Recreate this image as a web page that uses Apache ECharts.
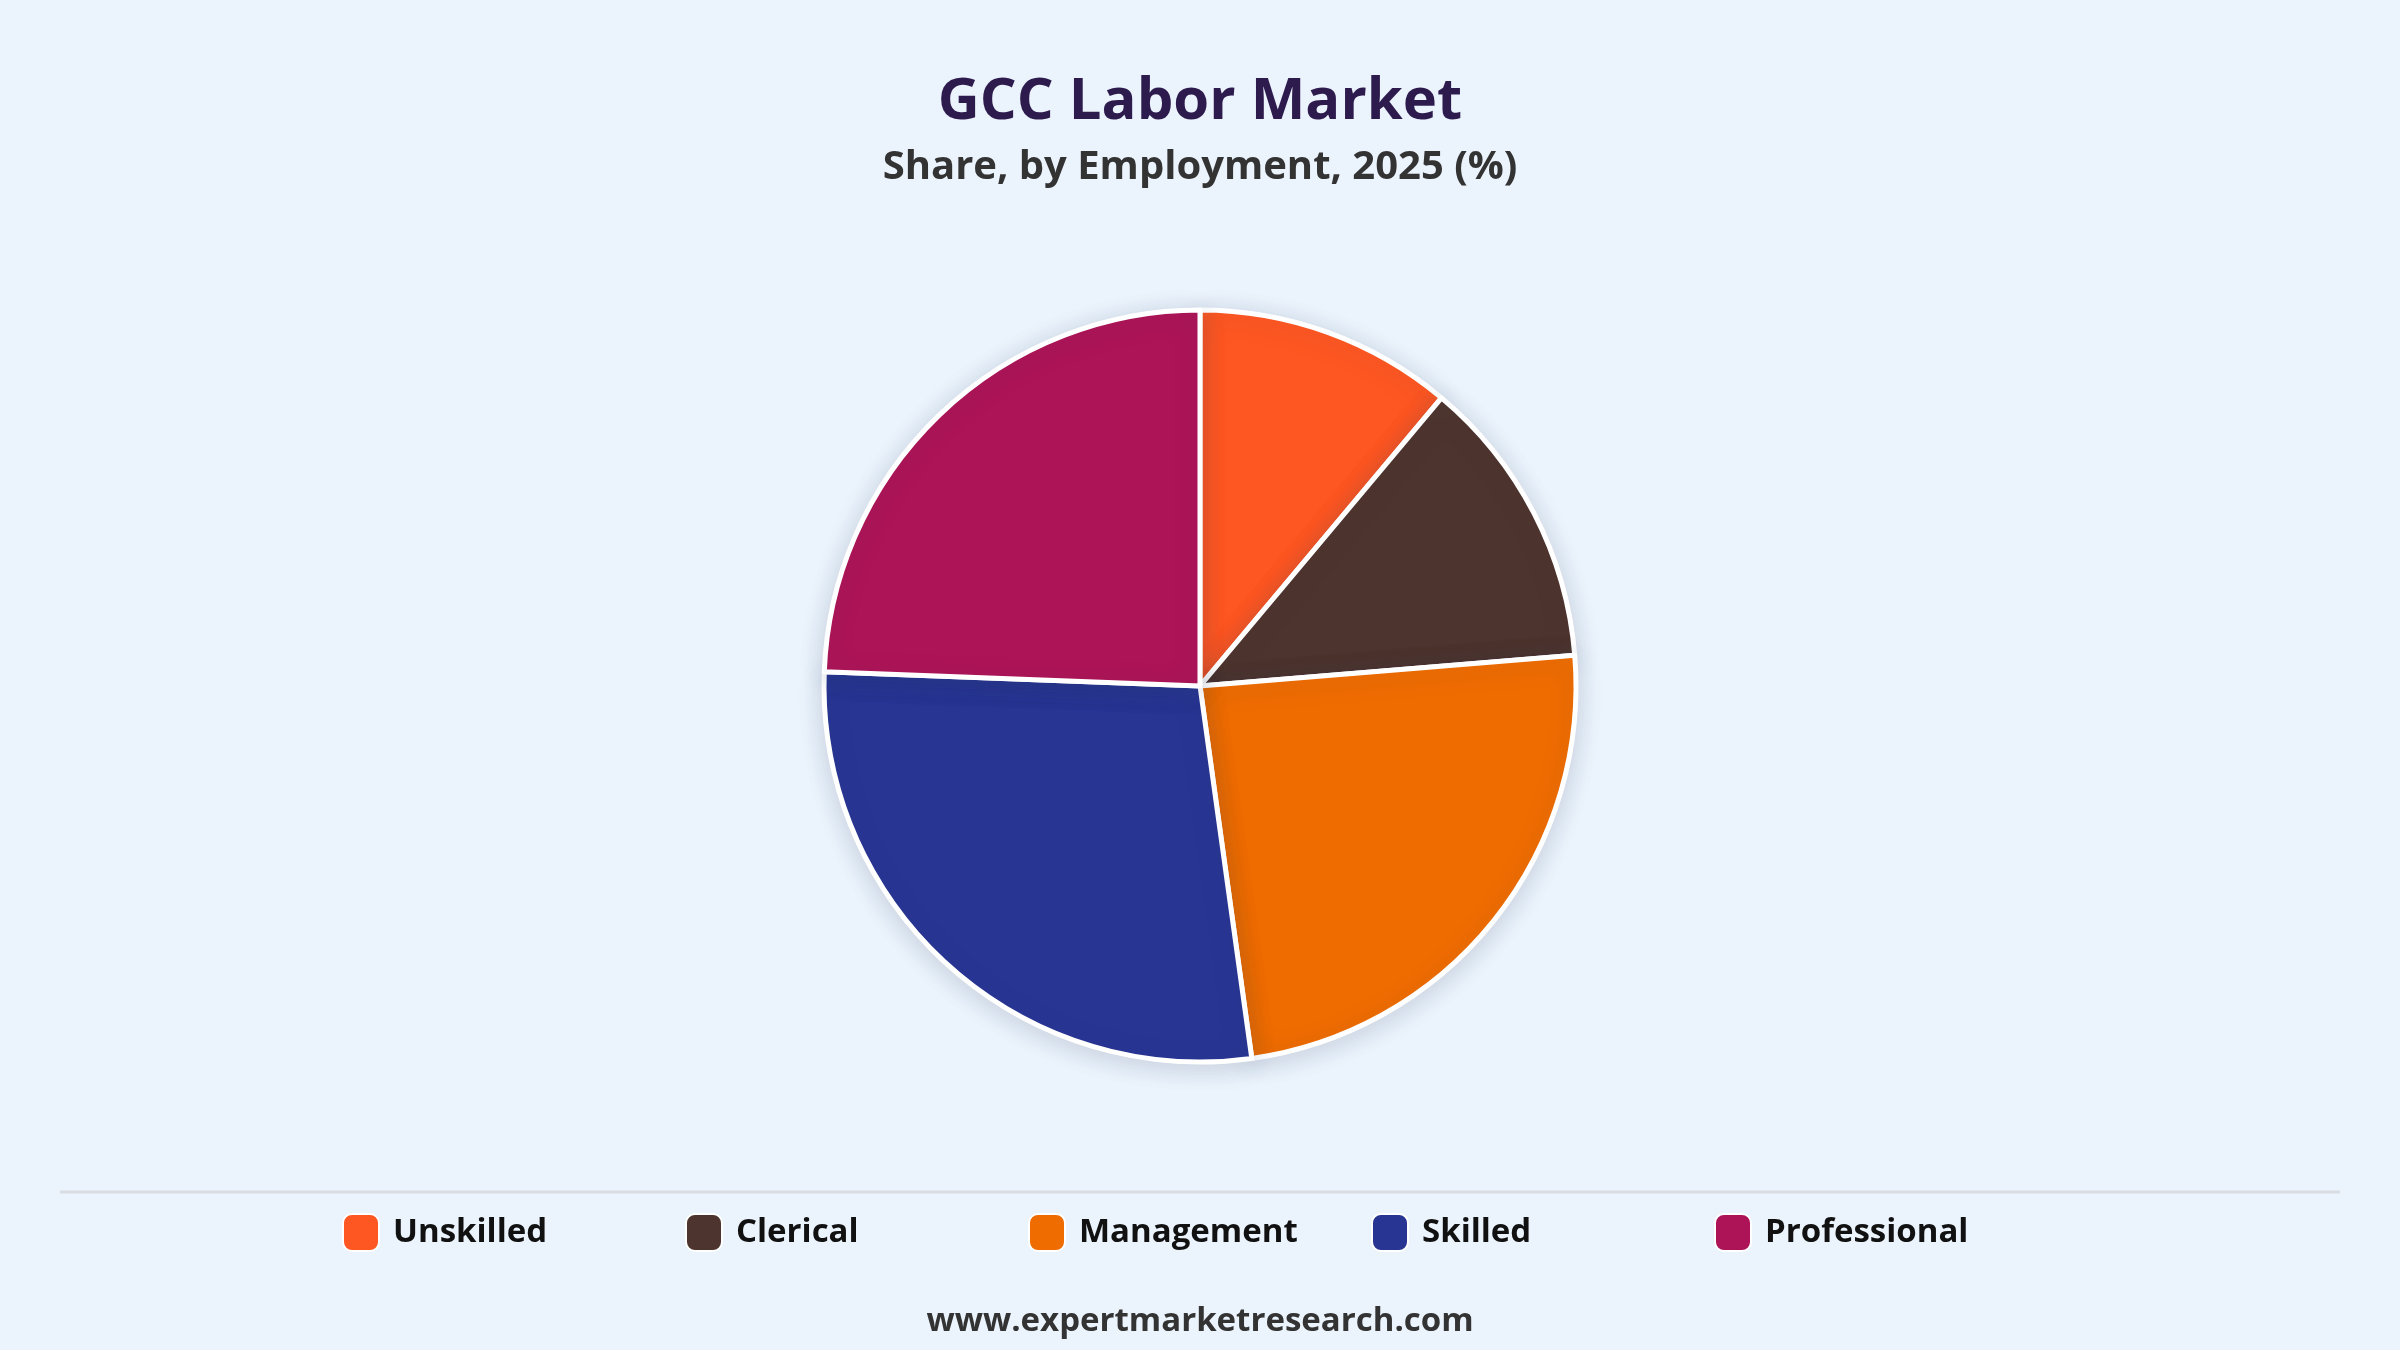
<!DOCTYPE html>
<html>
<head>
<meta charset="utf-8">
<script src="https://cdn.jsdelivr.net/npm/echarts@6/dist/echarts.min.js"></script>
<style>
  html, body { margin: 0; padding: 0; background: #ebf3fc; }
  #chart { width: 2400px; height: 1350px; }
</style>
</head>
<body>
<div id="chart"></div>
<script>
const categories = ['Unskilled', 'Clerical', 'Management', 'Skilled', 'Professional']
const shares = [11.1, 12.6, 24.1, 27.8, 24.4]
const colors = ['#ff5722', '#4e342e', '#ef6c00', '#283593', '#ad1457']

const fontFamily = '"Open Sans", "Noto Sans", sans-serif'

const chart = echarts.init(document.getElementById('chart'))

// one legend per item so each sits at a fixed slot
const legendStart = 342
const legendStep = 343
const legends = categories.map((name, i) => ({
  data: [name],
  left: legendStart + i * legendStep,
  top: 1213,
  padding: 0,
  itemWidth: 36,
  itemHeight: 37,
  icon: 'roundRect',
  selectedMode: false,
  textStyle: {
    fontFamily,
    fontSize: 33,
    fontWeight: 'bold',
    color: '#111111',
    padding: [0, 0, 0, 9]
  }
}))

const option = {
  backgroundColor: '#ebf3fc',
  title: [
    {
      text: 'GCC Labor Market',
      left: 'center',
      top: 68,
      textStyle: { fontFamily, fontSize: 58, fontWeight: 'bold', color: '#2d1b4e' }
    },
    {
      text: 'Share, by Employment, 2025 (%)',
      left: 'center',
      top: 143,
      textStyle: { fontFamily, fontSize: 40, fontWeight: 'bold', color: '#333333' }
    },
    {
      text: 'www.expertmarketresearch.com',
      left: 'center',
      top: 1300,
      textStyle: { fontFamily, fontSize: 33, fontWeight: 'bold', color: '#333333' }
    }
  ],
  legend: legends,
  graphic: [
    {
      type: 'line',
      shape: { x1: 60, y1: 1192, x2: 2340, y2: 1192 },
      style: { stroke: '#d9dde2', lineWidth: 3 }
    }
  ],
  series: [
    {
      type: 'pie',
      center: [1200, 686],
      radius: 376,
      startAngle: 90,
      clockwise: true,
      label: { show: false },
      labelLine: { show: false },
      emphasis: { disabled: true },
      itemStyle: {
        borderColor: '#ffffff',
        borderWidth: 5,
        shadowBlur: 24,
        shadowColor: 'rgba(40, 60, 90, 0.18)',
        shadowOffsetY: 4
      },
      data: categories.map((name, i) => ({
        name,
        value: shares[i],
        itemStyle: { color: colors[i] }
      }))
    }
  ]
}

chart.setOption(option)
</script>
</body>
</html>
